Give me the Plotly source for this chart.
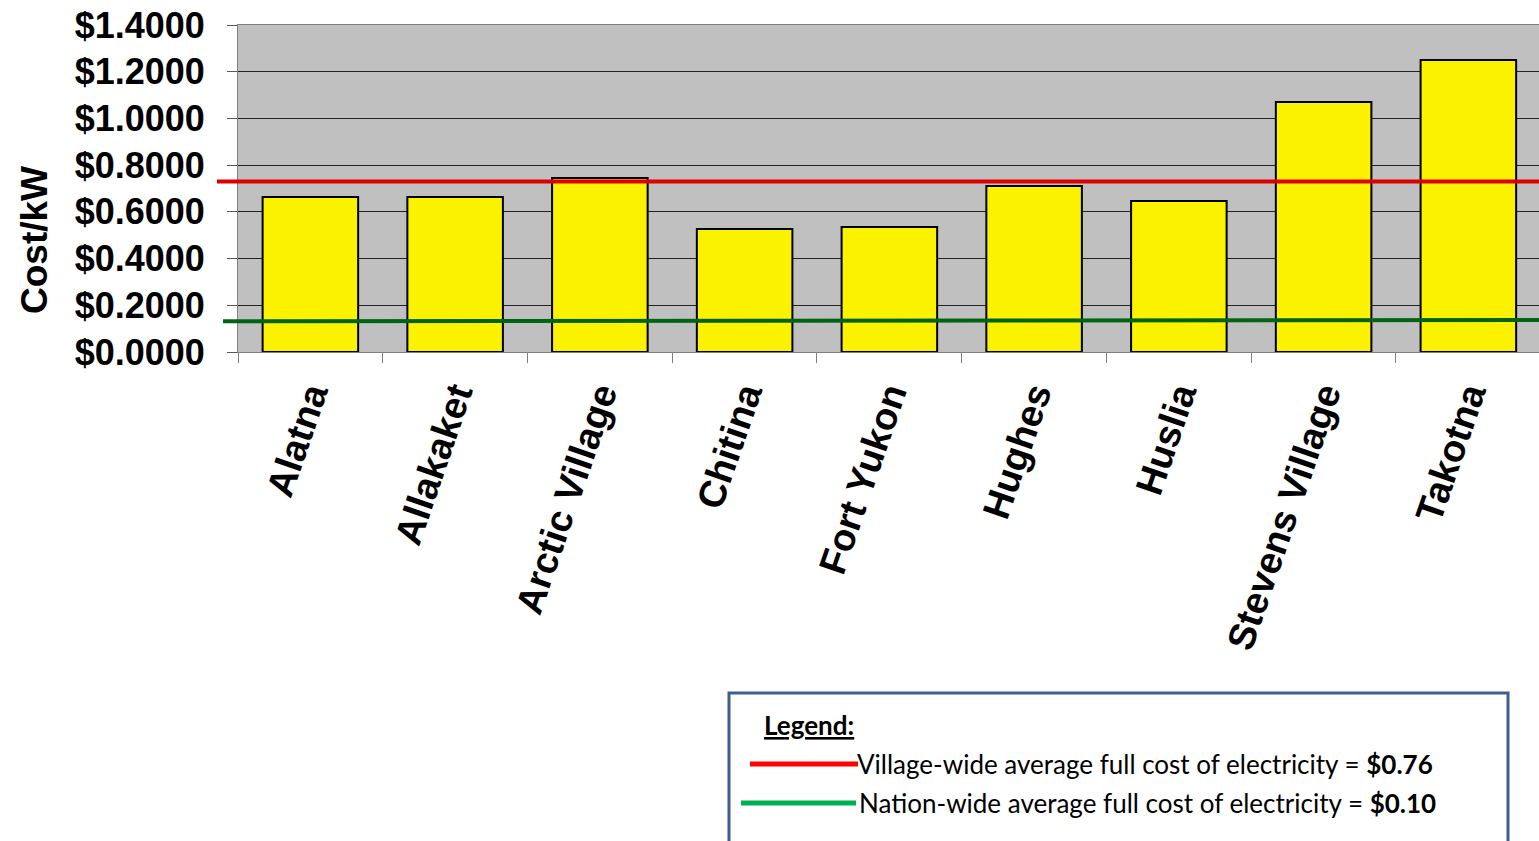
import plotly.graph_objects as go

villages = ["Alatna", "Allakaket", "Arctic Village", "Chitina", "Fort Yukon",
            "Hughes", "Huslia", "Stevens Village", "Takotna"]
cost_per_kw = [0.664, 0.664, 0.745, 0.527, 0.535, 0.711, 0.646, 1.070, 1.250]
y_ticks = [0.0, 0.2, 0.4, 0.6, 0.8, 1.0, 1.2, 1.4]
y_tick_text = ["$%.4f" % v for v in y_ticks]
village_avg_line = 0.730
nation_avg_line_left = 0.132
nation_avg_line_right = 0.137
legend_title = "Legend:"
legend_village = "Village-wide average full cost of electricity = "
legend_village_val = "$0.76"
legend_nation = "Nation-wide average full cost of electricity = "
legend_nation_val = "$0.10"

W, H = 1539, 841
L, T, B = 238, 25, 352
PW = W - L
PH = B - T


def px(x):
    return (x - L) / PW


def py(y):
    return (B - y) / PH


fig = go.Figure()
fig.add_trace(go.Bar(
    x=villages, y=cost_per_kw, width=0.66,
    marker=dict(color="#FBF200", line=dict(color="#000000", width=2)),
    showlegend=False,
))

shapes = [
    dict(type="line", xref="paper", yref="y", x0=px(217), x1=1.0,
         y0=village_avg_line, y1=village_avg_line,
         line=dict(color="#DD0000", width=4)),
    dict(type="line", xref="paper", yref="y", x0=px(223), x1=1.0,
         y0=nation_avg_line_left, y1=nation_avg_line_right,
         line=dict(color="#006414", width=4)),
    # legend box
    dict(type="rect", xref="paper", yref="paper", x0=px(729), x1=px(1508),
         y0=py(693), y1=py(860), line=dict(color="#3F5F8C", width=3),
         fillcolor="white"),
    dict(type="line", xref="paper", yref="paper", x0=px(750), x1=px(858),
         y0=py(764), y1=py(764), line=dict(color="#FF0000", width=5)),
    dict(type="line", xref="paper", yref="paper", x0=px(741), x1=px(856),
         y0=py(803), y1=py(803), line=dict(color="#00B050", width=5)),
]

annotations = [
    dict(text="<b>Cost/kW</b>", xref="paper", yref="paper", x=px(34), y=py(240),
         textangle=-90, showarrow=False, xanchor="center", yanchor="middle",
         font=dict(family="Liberation Sans", size=37, color="black")),
    dict(text="<b><u>" + legend_title + "</u></b>", xref="paper", yref="paper",
         x=px(762), y=py(725), showarrow=False, xanchor="left", yanchor="middle",
         font=dict(family="Lato", size=26, color="black")),
    dict(text=legend_village + "<b>" + legend_village_val + "</b>", xref="paper",
         yref="paper", x=px(855), y=py(764), showarrow=False, xanchor="left",
         yanchor="middle", font=dict(family="Lato", size=26, color="black")),
    dict(text=legend_nation + "<b>" + legend_nation_val + "</b>", xref="paper",
         yref="paper", x=px(857), y=py(803), showarrow=False, xanchor="left",
         yanchor="middle", font=dict(family="Lato", size=26, color="black")),
]

fig.update_layout(
    width=W, height=H,
    margin=dict(l=L, r=0, t=T, b=H - B, pad=0),
    paper_bgcolor="white", plot_bgcolor="#C0C0C0",
    shapes=shapes, annotations=annotations,
    bargap=0.34,
    xaxis=dict(
        range=[-0.5, 8.488], tickson="boundaries", ticks="outside", ticklen=10,
        tickcolor="#808080", tickwidth=1, tickangle=-71,
        showline=True, linecolor="#808080", linewidth=1, mirror=True,
        showgrid=False,
        tickfont=dict(family="Liberation Sans", size=38, color="black"),
        ticklabelstandoff=4,
    ),
    yaxis=dict(
        range=[0, 1.4], tickvals=y_ticks, ticktext=["<b>%s</b>" % t for t in y_tick_text],
        ticks="outside", ticklen=10, tickcolor="#555555", tickwidth=1,
        showline=True, linecolor="#808080", linewidth=1,
        showgrid=True, gridcolor="#222222", gridwidth=1, zeroline=False,
        tickfont=dict(family="Liberation Sans", size=36, color="black"),
        ticklabelstandoff=15,
    ),
)
fig.update_xaxes(ticktext=["<b>%s</b>" % v for v in villages], tickvals=villages)

fig.write_html("out.html")
